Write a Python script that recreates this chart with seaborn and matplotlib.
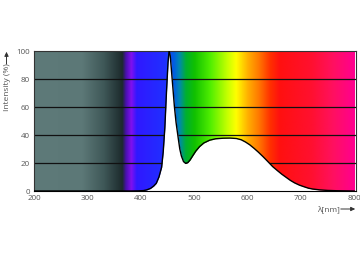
import numpy as np
import pandas as pd
import matplotlib
matplotlib.use("Agg")
import matplotlib.pyplot as plt
import seaborn as sns
from matplotlib.colors import LinearSegmentedColormap

# --- data -------------------------------------------------------------
wavelength = [200, 380, 395, 405, 411, 418, 424, 429, 434, 439, 442, 445,
              448, 451, 453, 455, 457, 460, 463, 466, 470, 473, 476, 480,
              484, 488, 492, 497, 503, 510, 518, 529, 540, 554, 567, 579,
              588, 596, 604, 612, 620, 629, 638, 647, 656, 664, 672, 680,
              688, 697, 706, 714, 722, 735, 750, 766, 800]
intensity = [0, 0, 0.1, 0.3, 0.8, 1.8, 3.5, 5.5, 10, 17, 28, 45,
             70, 92, 100, 97, 88, 74, 60, 49, 38, 30, 25, 21,
             19.7, 20.3, 22, 25, 28.5, 31.7, 34.3, 36.3, 37.3, 37.7, 37.8, 37.5,
             36.6, 35, 33, 30.5, 27.8, 24.5, 21, 17.4, 14.5, 12, 9.8, 7.6,
             5.8, 4.2, 3, 2, 1.4, 0.8, 0.4, 0.2, 0]

# background spectrum colour stops (nm, colour)
bg_nm = [200, 290, 330, 365, 372, 382, 392, 445, 462, 472, 484, 500, 530,
         560, 578, 600, 620, 642, 660, 720, 760, 800]
bg_col = ["#5e7a79", "#5c7877", "#3f5858", "#1c2a2c", "#4a10b0", "#8010f0",
          "#3018ff", "#2030ff", "#0060e0", "#0088b0", "#00b030", "#10c000",
          "#50ee00", "#c0ff00", "#ffff00", "#ffb000", "#ff7a00", "#ff3000",
          "#ff1010", "#ff1030", "#ff1060", "#ff0090"]

x_ticks = [200, 300, 400, 500, 600, 700, 800]
y_ticks = [0, 20, 40, 60, 80, 100]

df = pd.DataFrame({"nm": wavelength, "I": intensity})

# --- figure -----------------------------------------------------------
sns.set_theme(style="white")
plt.rcParams["font.family"] = ["Open Sans", "DejaVu Sans"]

fig = plt.figure(figsize=(3.6, 2.62), dpi=100)
ax = fig.add_axes([34 / 360, 1 - 191 / 262, 322 / 360, 140 / 262])

lo, hi = bg_nm[0], bg_nm[-1]
cmap = LinearSegmentedColormap.from_list(
    "spec", [((n - lo) / (hi - lo), c) for n, c in zip(bg_nm, bg_col)], N=1024)
grad = np.linspace(0, 1, 1200)[None, :]
ax.imshow(grad, cmap=cmap, aspect="auto", extent=[200, 800, 0, 100],
          zorder=0, interpolation="bilinear")

for yv in y_ticks[1:-1]:
    ax.axhline(yv, color="#111111", lw=0.9, zorder=1)

ax.fill_between(df["nm"], df["I"], 0, color="white", zorder=2, lw=0)
sns.lineplot(data=df, x="nm", y="I", ax=ax, color="black", lw=1.0,
             zorder=3, estimator=None, sort=False)

ax.set_xlim(200, 803)
ax.set_ylim(0, 100)
ax.set_xticks(x_ticks)
ax.set_yticks(y_ticks)
ax.tick_params(axis="both", length=0, labelsize=5.8, colors="#555555", pad=3)
ax.set_xlabel("")
ax.set_ylabel("")
for s in ax.spines.values():
    s.set_color("#333333")
    s.set_linewidth(0.8)
ax.spines["bottom"].set_color("black")

# axis labels with arrows
fig.text(8 / 360, 1 - 87 / 262, "Intensity (%)", rotation=90, ha="center",
         va="center", fontsize=6, color="#555555")
fig.add_artist(matplotlib.patches.FancyArrowPatch(
    (6.5 / 360, 1 - 67 / 262), (6.5 / 360, 1 - 49 / 262),
    transform=fig.transFigure, arrowstyle="-|>,head_length=2.5,head_width=1.2",
    color="#333333", lw=0.7))
fig.text(328 / 360, 1 - 209 / 262, "λ[nm]", ha="center", va="center",
         fontsize=6, color="#555555")
fig.add_artist(matplotlib.patches.FancyArrowPatch(
    (338 / 360, 1 - 209 / 262), (358 / 360, 1 - 209 / 262),
    transform=fig.transFigure, arrowstyle="-|>,head_length=2.5,head_width=1.2",
    color="#333333", lw=0.7))

fig.savefig("out.png", dpi=100)
